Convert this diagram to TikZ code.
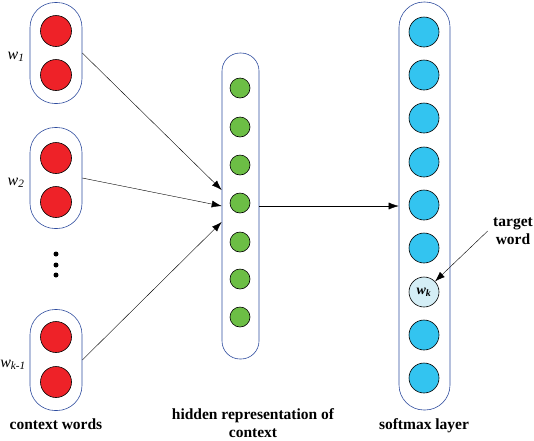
\documentclass[tikz,border=0pt]{standalone}
\usepackage{fontspec}
\setmainfont{Liberation Serif}
\usepackage{xcolor}
\usetikzlibrary{arrows.meta}

\definecolor{boxblue}{RGB}{46,76,158}
\definecolor{wordred}{RGB}{238,34,40}
\definecolor{hidgreen}{RGB}{108,190,69}
\definecolor{softcyan}{RGB}{51,196,240}
\definecolor{targetcyan}{RGB}{212,238,246}

\begin{document}
\begin{tikzpicture}[x=1pt,y=-1pt,
    ctxbox/.style={draw=boxblue, semithick, minimum width=52pt, minimum height=101pt, rounded corners=25pt},
    wordnode/.style={circle, draw, semithick, fill=wordred, minimum size=31pt, inner sep=0pt},
    hidnode/.style={circle, draw, semithick, fill=hidgreen, minimum size=20pt, inner sep=0pt},
    softnode/.style={circle, draw, semithick, fill=softcyan, minimum size=30pt, inner sep=0pt},
    dotnode/.style={circle, fill=black, minimum size=5pt, inner sep=0pt},
    caption/.style={font=\fontsize{15.5}{18.5}\selectfont\bfseries, align=center},
    wlabel/.style={font=\fontsize{16}{18}\selectfont\itshape},
    arr/.style={-{Latex[length=10pt,width=7pt]}},
]
\useasboundingbox (0,0) rectangle (534,440);

% context words
\node [ctxbox] (c1) at (56,53) {};
\node [ctxbox] (c2) at (56,178) {};
\node [ctxbox] (c3) at (56,360) {};
\node [wordnode] (a1) at (56,31) {};
\node [wordnode] (a2) at (56,75) {};
\node [wordnode] (b1) at (56,158) {};
\node [wordnode] (b2) at (56,202) {};
\node [wordnode] (d1) at (56,337) {};
\node [wordnode] (d2) at (56,382) {};
\node [dotnode] (p1) at (56,254) {};
\node [dotnode] (p2) at (56,265) {};
\node [dotnode] (p3) at (56,275) {};
\node [wlabel] (w1) at (16,57) {w\textsubscript{1}};
\node [wlabel] (w2) at (16,183) {w\textsubscript{2}};
\node [wlabel] (wk1) at (13,365) {w\textsubscript{k-1}};
\node [caption] (ctx) at (56,424) {context words};

% hidden layer
\node [draw=boxblue, semithick, minimum width=37pt, minimum height=306pt, rounded corners=18pt] (hid) at (240.5,206) {};
\node [hidnode] (h1) at (240,88) {};
\node [hidnode] (h2) at (240,127) {};
\node [hidnode] (h3) at (240,165) {};
\node [hidnode] (h4) at (240,203) {};
\node [hidnode] (h5) at (240,242) {};
\node [hidnode] (h6) at (240,279) {};
\node [hidnode] (h7) at (240,317) {};
\node [caption] (hidcap) at (253,423) {hidden representation of\\context};

% softmax layer
\node [draw=boxblue, semithick, minimum width=51pt, minimum height=408pt, rounded corners=25pt] (soft) at (424.5,206) {};
\node [softnode] (s1) at (424,32) {};
\node [softnode] (s2) at (424,75) {};
\node [softnode] (s3) at (424,118) {};
\node [softnode] (s4) at (424,162) {};
\node [softnode] (s5) at (424,205) {};
\node [softnode] (s6) at (424,248) {};
\node [softnode, fill=targetcyan, font=\fontsize{14}{16}\selectfont\bfseries\itshape] (s7) at (424,292) {w\textsubscript{k}};
\node [softnode] (s8) at (424,335) {};
\node [softnode] (s9) at (424,378) {};
\node [caption] (softcap) at (424,426) {softmax layer};
\node [caption] (tw) at (513,231) {target\\word};

% connections
\draw [arr] (c1.east) -- ([yshift=16pt]hid.west);
\draw [arr] (c2.east) -- (hid.west);
\draw [arr] (c3.east) -- ([yshift=-16pt]hid.west);
\draw [arr] (hid.east) -- (soft.west);
\draw [arr] ([xshift=-2pt]tw.west) -- (s7);

\end{tikzpicture}
\end{document}
